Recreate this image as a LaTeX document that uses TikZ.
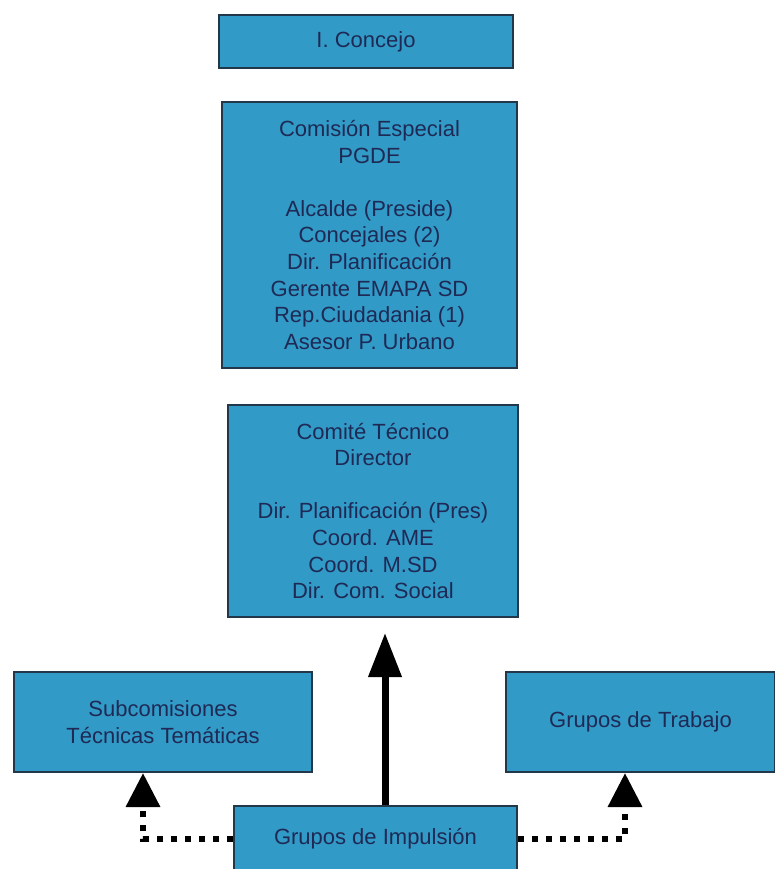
\documentclass[tikz,border=0pt]{standalone}
\usepackage{fontspec}
\setmainfont{Liberation Sans}
\usetikzlibrary{arrows.meta,positioning}
\definecolor{boxfill}{RGB}{50,154,198}
\definecolor{boxline}{RGB}{35,55,75}
\definecolor{boxtext}{RGB}{30,42,85}

\begin{document}
\begin{tikzpicture}[x=1pt,y=-1pt,
  box/.style={rectangle,fill=boxfill,draw=boxline,line width=1.2pt,inner sep=0pt,
    align=center,text=boxtext,font=\fontsize{22}{26.6}\selectfont},
  bigarrow/.style={line width=7pt,-{Triangle[length=44pt,width=32pt]}},
  dotline/.style={line width=6.5pt,dash pattern=on 6.5pt off 7.5pt,-{Triangle[length=34pt,width=33pt]}}]
  \useasboundingbox (0,0) rectangle (775,869);
  \fill[white] (0,0) rectangle (775,869);

  \node[box,minimum width=294pt,minimum height=53pt]  (concejo)   at (366,41.5) {I. Concejo};
  \node[box,minimum width=295pt,minimum height=266pt] (comision)  at (369.5,235)
    {Comisión Especial\\PGDE\\[26.6pt]Alcalde (Preside)\\Concejales (2)\\Dir. Planificación\\Gerente EMAPA SD\\Rep.Ciudadania (1)\\Asesor P. Urbano};
  \node[box,minimum width=290pt,minimum height=212pt] (comite)    at (373,511)
    {Comité Técnico\\Director\\[26.6pt]Dir. Planificación (Pres)\\Coord. AME\\Coord. M.SD\\Dir. Com. Social};
  \node[box,minimum width=298pt,minimum height=100pt] (subcom)    at (163,722) {Subcomisiones\\Técnicas Temáticas};
  \node[box,minimum width=269pt,minimum height=100pt] (trabajo)   at (640.5,722) {Grupos de Trabajo};
  \node[box,minimum width=283pt,minimum height=66pt]  (impulsion) at (375.5,839) {Grupos de Impulsión};

  \coordinate (uptip)    at (385,633);
  \coordinate (lefttip)  at (143,773);
  \coordinate (righttip) at (625,773);

  \draw[bigarrow] (impulsion.north -| uptip) -- (uptip);
  \draw[dotline] (impulsion.west) -| (lefttip);
  \draw[dotline] (impulsion.east) -| (righttip);
\end{tikzpicture}
\end{document}
